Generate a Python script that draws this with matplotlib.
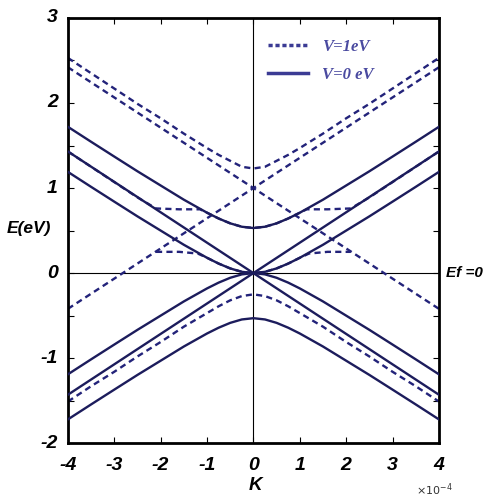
import numpy as np
import matplotlib.pyplot as plt
from matplotlib.ticker import MultipleLocator

# k in units of 1e-4, energies in eV
k = [-4, -3.5, -3, -2.5, -2, -1.5, -1, -0.75, -0.5, -0.25, 0,
     0.25, 0.5, 0.75, 1, 1.5, 2, 2.5, 3, 3.5, 4]

# V = 0 eV (solid)
v0_upper = [1.72, 1.544, 1.37, 1.197, 1.03, 0.863, 0.71, 0.642, 0.585, 0.545, 0.53,
            0.545, 0.585, 0.642, 0.71, 0.863, 1.03, 1.197, 1.37, 1.544, 1.72]
v0_lower = [-1.72, -1.544, -1.37, -1.197, -1.03, -0.863, -0.71, -0.642, -0.585, -0.545, -0.53,
            -0.545, -0.585, -0.642, -0.71, -0.863, -1.03, -1.197, -1.37, -1.544, -1.72]
v0_low_c = [1.19, 1.014, 0.84, 0.667, 0.50, 0.333, 0.18, 0.112, 0.055, 0.015, 0,
            0.015, 0.055, 0.112, 0.18, 0.333, 0.50, 0.667, 0.84, 1.014, 1.19]
v0_low_v = [-1.19, -1.014, -0.84, -0.667, -0.50, -0.333, -0.18, -0.112, -0.055, -0.015, 0,
            -0.015, -0.055, -0.112, -0.18, -0.333, -0.50, -0.667, -0.84, -1.014, -1.19]
k_lin = [-4, 4]
lin_up = [-1.43, 1.43]
lin_dn = [1.43, -1.43]

# V = 1 eV (dashed)
v1_upper = [2.53, 2.35, 2.17, 1.99, 1.82, 1.64, 1.47, 1.39, 1.32, 1.25, 1.23,
            1.25, 1.32, 1.39, 1.47, 1.64, 1.82, 1.99, 2.17, 2.35, 2.53]
v1_lower = [-1.51, -1.33, -1.16, -0.98, -0.81, -0.63, -0.47, -0.39, -0.32, -0.27, -0.25,
            -0.27, -0.32, -0.39, -0.47, -0.63, -0.81, -0.98, -1.16, -1.33, -1.51]
v1_line_a = [2.42, -0.42]
v1_line_b = [-0.42, 2.42]
k_mid = [-4, -3.5, -3, -2.5, -2.1, -1.6, -1.15, -1, -0.75, -0.5, -0.25, 0,
         0.25, 0.5, 0.75, 1, 1.15, 1.6, 2.1, 2.5, 3, 3.5, 4]
v1_mid = [1.43, 1.25, 1.07, 0.89, 0.76, 0.75, 0.75, 0.71, 0.642, 0.585, 0.545, 0.53,
          0.545, 0.585, 0.642, 0.71, 0.75, 0.75, 0.76, 0.89, 1.07, 1.25, 1.43]
k_low = [-2.1, -1.6, -1.2, -1, -0.75, -0.5, -0.25, 0, 0.25, 0.5, 0.75, 1, 1.2, 1.6, 2.1]
v1_low = [0.25, 0.25, 0.23, 0.18, 0.112, 0.055, 0.015, 0, 0.015, 0.055, 0.112, 0.18, 0.23, 0.25, 0.25]

font = dict(family='Liberation Sans', weight='bold', style='italic')
col = '#1c1c5c'

fig = plt.figure(figsize=(4.85, 4.98), dpi=100)
ax = fig.add_axes([0.140, 0.110, 0.765, 0.854])

dash = (0, (2.6, 1.8))
lw = 1.7
for xs, ys in [(k, v1_upper), (k, v1_lower), (k_lin, v1_line_a), (k_lin, v1_line_b),
               (k_mid, v1_mid), (k_low, v1_low)]:
    ax.plot(xs, ys, color='#23237a', lw=lw, linestyle=dash, zorder=2)

for xs, ys in [(k, v0_upper), (k, v0_lower), (k, v0_low_c), (k, v0_low_v),
               (k_lin, lin_up), (k_lin, lin_dn)]:
    ax.plot(xs, ys, color=col, lw=lw, zorder=3)

ax.axhline(0, color='black', lw=0.8, zorder=1)
ax.axvline(0, color='black', lw=0.8, zorder=1)

ax.set_xlim(-4, 4)
ax.set_ylim(-2, 3)
ax.xaxis.set_major_locator(MultipleLocator(1))
ax.yaxis.set_major_locator(MultipleLocator(1))
ax.yaxis.set_minor_locator(MultipleLocator(0.5))
ax.tick_params(which='both', direction='in', top=True, right=True, length=4, width=0.8)
ax.set_xticklabels([])
ax.set_yticklabels([])
for v in range(-4, 5):
    ax.text(v, -2.16, str(v), ha='center', va='top', size=14, **font)
for v in range(-2, 4):
    ax.text(-4.22, v, str(v), ha='right', va='center', size=14, **font)
for s in ax.spines.values():
    s.set_linewidth(2.0)

ax.text(-4.85, 0.53, 'E(eV)', ha='center', va='center', size=12.5, **font)
ax.text(0.05, -2.5, 'K', ha='center', va='center', size=13.5, **font)
ax.text(4.15, 0, 'Ef =0', ha='left', va='center', size=11, **font)
ax.text(3.5, -2.55, r'$\times10^{-4}$', ha='left', va='center', fontsize=8, color='#333333')

l1, = ax.plot([], [], color='#3b3b94', lw=2.5, linestyle=(0, (1.2, 0.8)))
l2, = ax.plot([], [], color='#3b3b94', lw=2.5)
leg = ax.legend([l1, l2], ['V=1eV', 'V=0 eV'], loc='upper left', bbox_to_anchor=(0.5, 0.985),
                frameon=False, handlelength=2.4, labelspacing=0.7,
                prop=dict(family='Liberation Serif', weight='bold', style='italic', size=12))
for t in leg.get_texts():
    t.set_color('#4a4aa0')

plt.savefig('out.png', dpi=100)
